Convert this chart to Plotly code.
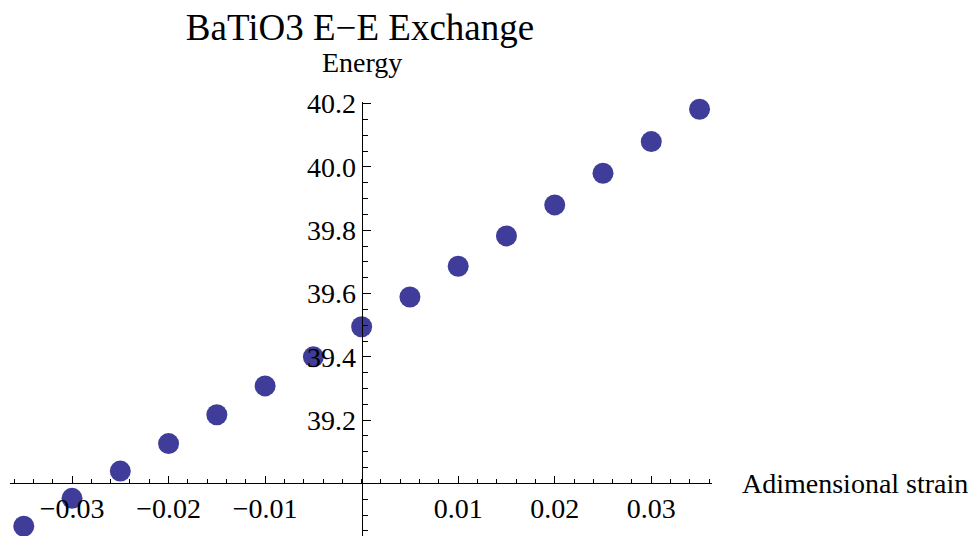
import plotly.graph_objects as go

# Data
strain = [-0.035, -0.030, -0.025, -0.020, -0.015, -0.010, -0.005, 0.000,
          0.005, 0.010, 0.015, 0.020, 0.025, 0.030, 0.035]
energy = [38.865, 38.953, 39.039, 39.126, 39.217, 39.308, 39.400, 39.495,
          39.589, 39.686, 39.782, 39.880, 39.980, 40.080, 40.182]

x_ticks = [-0.03, -0.02, -0.01, 0.01, 0.02, 0.03]
x_ticktext = ["\u22120.03", "\u22120.02", "\u22120.01", "0.01", "0.02", "0.03"]
y_ticks = [39.2, 39.4, 39.6, 39.8, 40.0, 40.2]
y_ticktext = ["39.2", "39.4", "39.6", "39.8", "40.0", "40.2"]

title = "BaTiO3 E\u2212E Exchange"
x_label = "Adimensional strain"
y_label = "Energy"

x_range = [-0.036425, 0.03629]
y_range = [38.834, 40.205]
x_cross = 0.0     # where the y axis crosses
y_cross = 39.0    # where the x axis crosses

FONT = "Liberation Serif"
COLOR = "#3f3d99"

xpos = (x_cross - x_range[0]) / (x_range[1] - x_range[0])
ypos = (y_cross - y_range[0]) / (y_range[1] - y_range[0])

fig = go.Figure()
fig.add_trace(go.Scatter(
    x=strain, y=energy, mode="markers",
    marker=dict(size=21, color=COLOR, line=dict(width=0)),
    cliponaxis=False, showlegend=False,
))

fig.update_layout(
    width=973, height=536,
    margin=dict(l=10, r=261, t=102, b=0, pad=0),
    paper_bgcolor="white", plot_bgcolor="white",
    font=dict(family=FONT, size=28, color="black"),
    title=dict(text=title, x=360 / 973, xanchor="center", y=1 - 27 / 536,
               yanchor="middle", font=dict(family=FONT, size=37, color="black")),
    xaxis=dict(
        range=x_range, anchor="free", position=ypos,
        showgrid=False, zeroline=False,
        showline=True, linecolor="black", linewidth=1,
        tickmode="array", tickvals=x_ticks, ticktext=x_ticktext,
        ticks="inside", ticklen=7, tickwidth=1, tickcolor="black",
        ticklabelstandoff=0,
        tickfont=dict(family=FONT, size=28, color="black"),
        minor=dict(dtick=0.002, tick0=0, ticks="inside", ticklen=4,
                   tickwidth=1, tickcolor="black", showgrid=False),
    ),
    yaxis=dict(
        range=y_range, anchor="free", position=xpos,
        showgrid=False, zeroline=False,
        showline=True, linecolor="black", linewidth=1,
        tickmode="array", tickvals=y_ticks, ticktext=y_ticktext,
        ticks="inside", ticklen=8, tickwidth=1, tickcolor="black",
        ticklabelstandoff=0,
        tickfont=dict(family=FONT, size=28, color="black"),
        minor=dict(dtick=0.05, tick0=39.0, ticks="inside", ticklen=5,
                   tickwidth=1, tickcolor="black", showgrid=False),
    ),
    annotations=[
        dict(text=y_label, xref="x", yref="paper", x=x_cross,
             y=(536 - 63) / 434, xanchor="center", yanchor="middle",
             showarrow=False, font=dict(family=FONT, size=28, color="black")),
        dict(text=x_label, xref="paper", yref="y", x=(740 - 10) / 702,
             y=y_cross, xanchor="left", yanchor="middle",
             showarrow=False, font=dict(family=FONT, size=28, color="black")),
    ],
)

fig.write_html("out.html",
               config={"displayModeBar": False},
               post_script="document.body.style.margin='0';document.body.style.overflow='hidden';")
